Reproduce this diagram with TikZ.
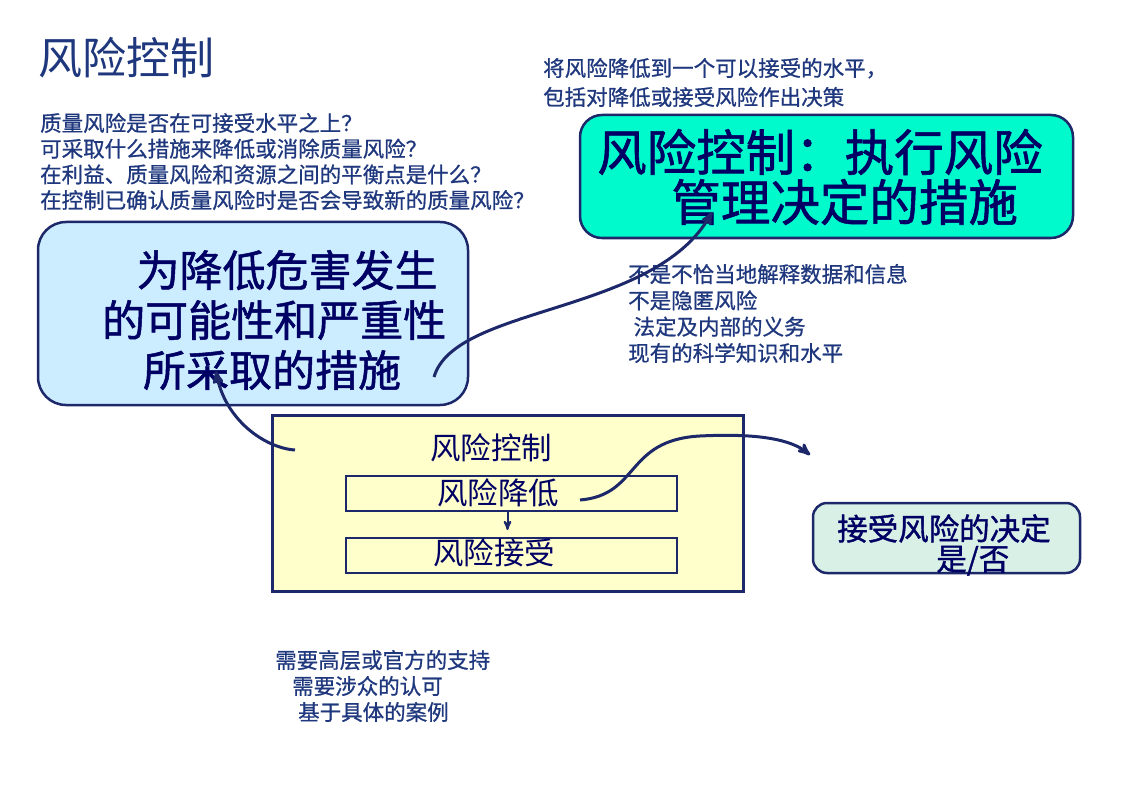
\documentclass[tikz,border=0pt]{standalone}
\usepackage{fontspec}
\setmainfont{Noto Sans CJK SC}
\newfontfamily\heavycjk[FakeBold=1.2]{Noto Sans CJK SC}
\newfontfamily\notecjk[FakeBold=0.8]{Noto Sans CJK SC}
\usepackage{tikz}
\usetikzlibrary{positioning,arrows,calc}

\definecolor{navytxt}{RGB}{30,55,125}
\definecolor{boxtxt}{RGB}{0,0,100}
\definecolor{boxline}{RGB}{28,40,105}
\definecolor{fillBlue}{RGB}{204,236,255}
\definecolor{fillTeal}{RGB}{0,250,204}
\definecolor{fillYel}{RGB}{255,255,204}
\definecolor{fillDec}{RGB}{216,240,230}

\tikzset{
  note/.style={text=navytxt, font=\notecjk\fontsize{21.5}{26}\selectfont, align=left, anchor=west, inner sep=0pt},
  boxlbl/.style={text=boxtxt, inner sep=0pt},
  boxframe/.style={draw=boxline, line width=2.5pt, inner sep=0pt},
  flow/.style={->, >=stealth', draw=boxline, line width=3pt},
}

\begin{document}
\begin{tikzpicture}[x=1pt, y=-1pt]
  \useasboundingbox (0,0) rectangle (1123,794);
%
    \node[note, font=\fontsize{44}{48}\selectfont] (ttl) at (38,58) {风险控制};
    \node[note, font=\notecjk\fontsize{21.5}{25.7}\selectfont] (quest) at (40,161.5)
      {质量风险是否在可接受水平之上？\\
       可采取什么措施来降低或消除质量风险？\\
       在利益、质量风险和资源之间的平衡点是什么？\\
       在控制已确认质量风险时是否会导致新的质量风险？};
    \node[note, font=\notecjk\fontsize{21.5}{29}\selectfont] (goal) at (543,82.5)
      {将风险降低到一个可以接受的水平，\\
       包括对降低或接受风险作出决策};
%
    \node[boxframe, fill=fillTeal, rounded corners=22pt, minimum width=493pt, minimum height=123pt] (tealBox) at (826.5,176.5) {};
    \node[boxlbl, align=left, anchor=west, font=\heavycjk\fontsize{49.5}{50}\selectfont] (tealTxt) at (597,177)
      {风险控制：执行风险\\ \hspace*{1.5em}管理决定的措施};
%
    \node[boxframe, fill=fillBlue, rounded corners=28pt, minimum width=430pt, minimum height=183pt] (blueBox) at (253,313.5) {};
    \node[boxlbl, align=left, anchor=west, font=\heavycjk\fontsize{43}{50}\selectfont] (blueTxt) at (102,320)
      {\hspace*{0.8em}为降低危害发生\\ 的可能性和严重性\\ \hspace*{0.95em}所采取的措施};
%
    \node[note, font=\notecjk\fontsize{21.5}{26.3}\selectfont] (duty) at (628,313.5)
      {不是不恰当地解释数据和信息\\
       不是隐匿风险\\
       \hspace*{0.25em}法定及内部的义务\\
       现有的科学知识和水平};
%
    \node[boxframe, fill=fillYel, line width=3pt, minimum width=471pt, minimum height=176pt] (ctlBox) at (507.5,503) {};
    \node[boxlbl, font=\fontsize{30.5}{32}\selectfont] (ctlTxt) at (491,448) {风险控制};
    \node[boxframe, line width=2pt, minimum width=331pt, minimum height=35pt] (lowBox) at (511.5,493.5) {};
    \node[boxlbl, font=\fontsize{30.5}{32}\selectfont] (lowTxt) at (498,493) {风险降低};
    \node[boxframe, line width=2pt, minimum width=331pt, minimum height=35pt] (accBox) at (511.5,555.5) {};
    \node[boxlbl, font=\fontsize{30.5}{32}\selectfont] (accTxt) at (494,553) {风险接受};
%
    \node[boxframe, fill=fillDec, rounded corners=14pt, minimum width=267pt, minimum height=70pt] (decBox) at (946.5,538) {};
    \node[boxlbl, align=left, anchor=west, font=\heavycjk\fontsize{30.5}{30}\selectfont] (decTxt) at (837,545)
      {接受风险的决定\\ \hspace*{3.25em}是/否};
%
    \node[note] (support) at (275,686)
      {需要高层或官方的支持\\
       \hspace*{17pt}需要涉众的认可\\
       \hspace*{23pt}基于具体的案例};
%
    \node[coordinate] (aS1) at (434,377) {};
    \node[coordinate] (aT1) at (712,212) {};
    \draw[flow] (aS1) .. controls (455,305) and (655,315) .. (aT1);
%
    \node[coordinate] (aS2) at (295,450) {};
    \node[coordinate] (aT2) at (216,371) {};
    \draw[flow] (aS2) .. controls (265,448) and (225,420) .. (aT2);
%
    \node[coordinate] (aS3) at (580,500) {};
    \node[coordinate] (aT3) at (810,455) {};
    \draw[flow] (aS3) .. controls (640,495) and (625,440) .. (700,436)
                      .. controls (760,433) and (792,440) .. (aT3);
%
    \draw[flow, line width=2pt] ([xshift=-4pt]lowBox.south) -- ([xshift=-4pt,yshift=7pt]accBox.north);
\end{tikzpicture}
\end{document}
